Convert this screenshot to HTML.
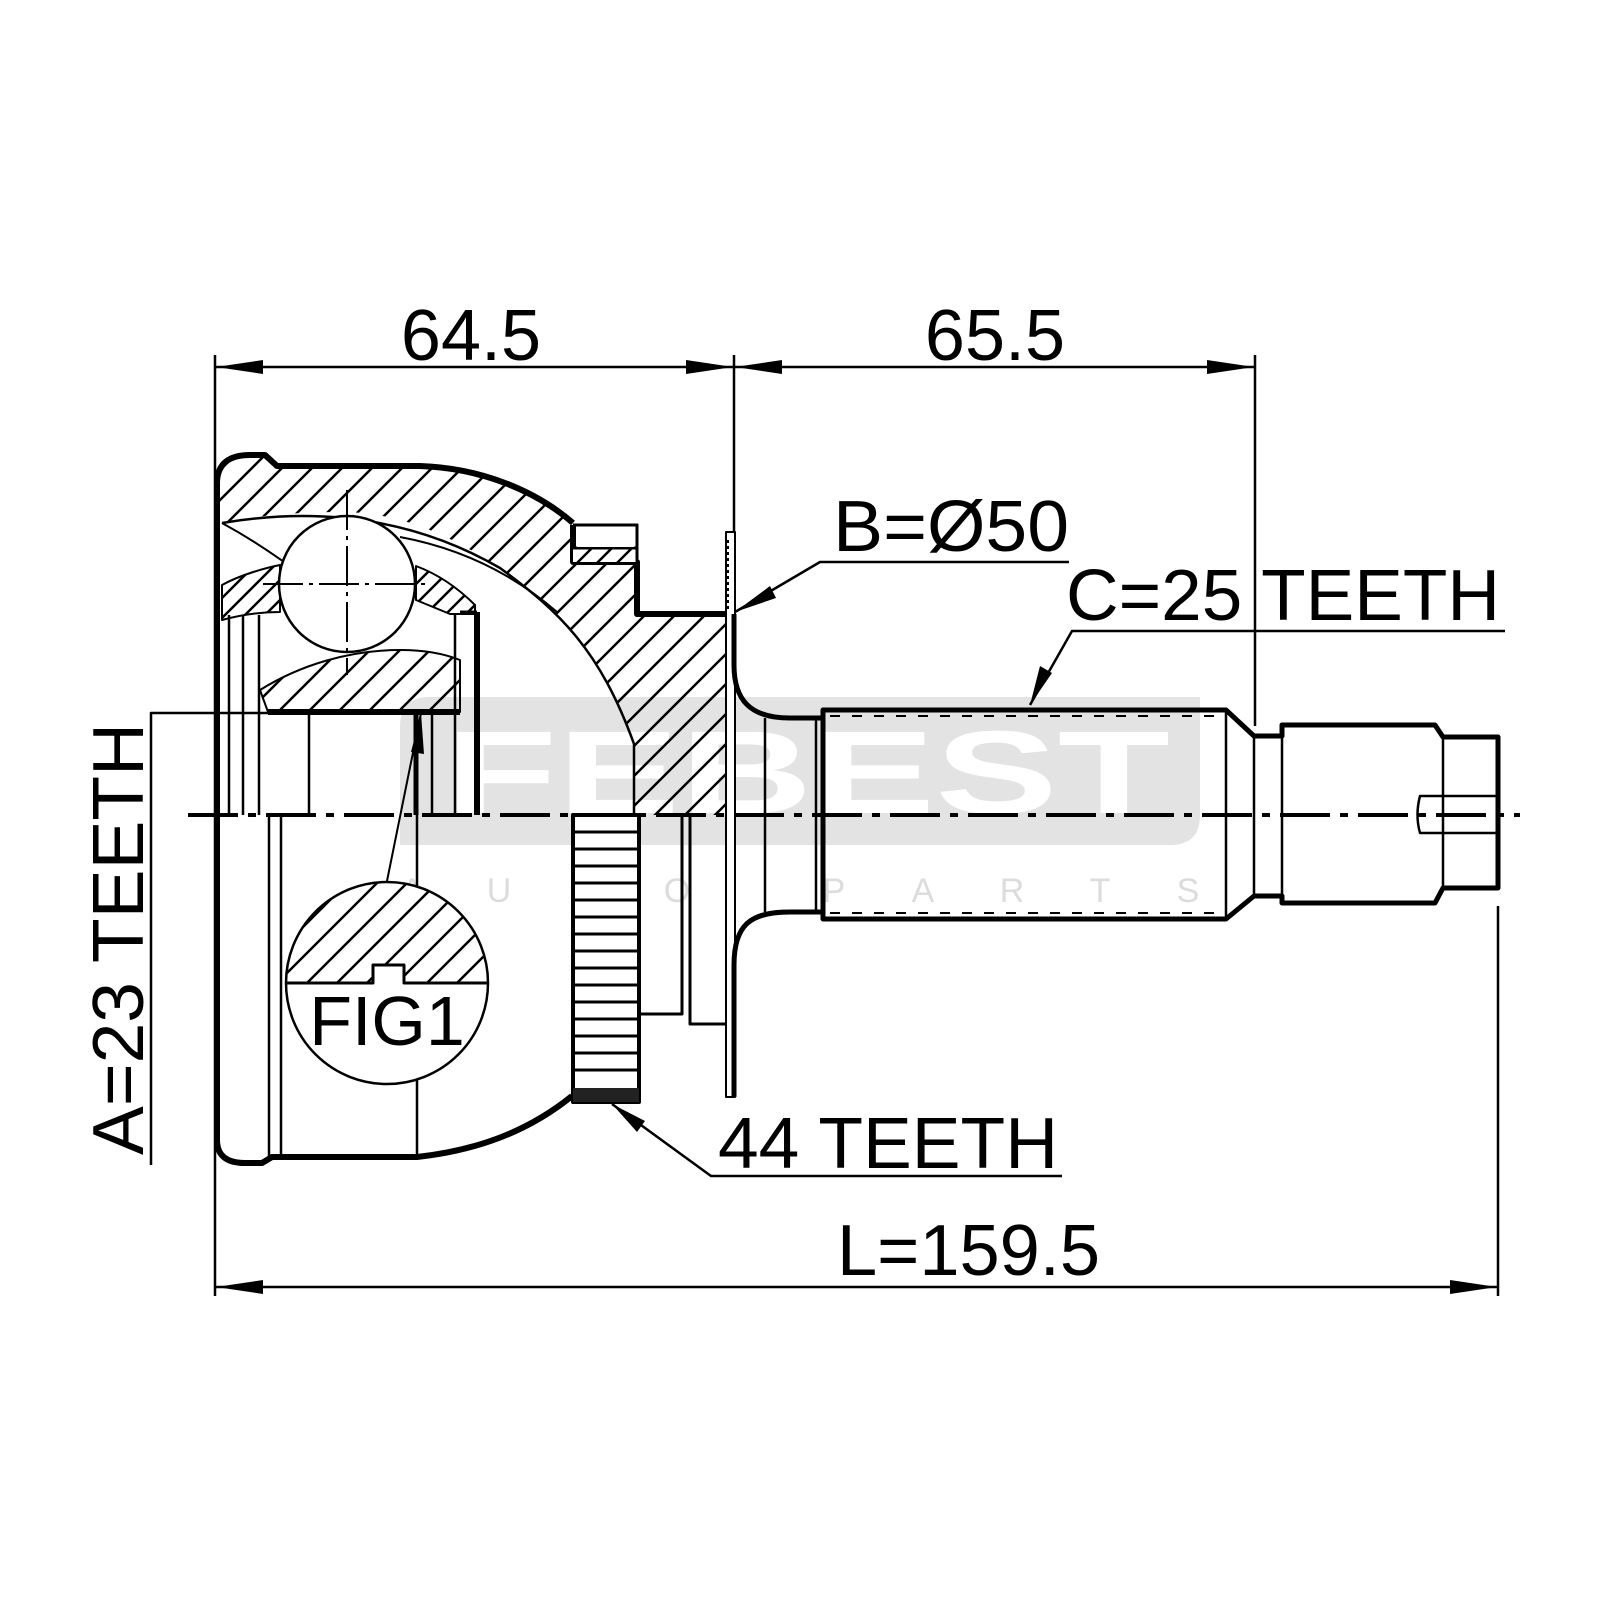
<!DOCTYPE html>
<html><head><meta charset="utf-8"><style>
html,body{margin:0;padding:0;background:#fff}
svg{display:block}
text{font-family:"Liberation Sans",Arial,sans-serif}
</style></head><body>
<svg width="1600" height="1600" viewBox="0 0 1600 1600" xmlns="http://www.w3.org/2000/svg">
<defs>
<pattern id="h" patternUnits="userSpaceOnUse" width="30" height="30">
<path d="M-5,35 L35,-5 M-35,35 L5,-5 M25,35 L65,-5" stroke="#000" stroke-width="2.5"/>
</pattern>
<pattern id="h2" patternUnits="userSpaceOnUse" width="20" height="20">
<path d="M-5,25 L25,-5 M-25,25 L5,-5 M15,25 L45,-5" stroke="#000" stroke-width="2.5"/>
</pattern>
</defs>

<!-- watermark -->
<path d="M430,697 H1200 V815 Q1200,845 1170,845 H400 V727 Q400,697 430,697 Z" fill="#e3e3e3"/>
<text x="445" y="813" font-size="118" font-weight="bold" fill="#fff" textLength="725" lengthAdjust="spacingAndGlyphs">FEBEST</text>
<g font-size="34" fill="#dcdcdc" text-anchor="middle">
<text x="412" y="902">A</text><text x="499" y="902">U</text><text x="588" y="902">T</text><text x="677" y="902">O</text>
<text x="834" y="902">P</text><text x="923" y="902">A</text><text x="1012" y="902">R</text><text x="1100" y="902">T</text><text x="1188" y="902">S</text>
</g>

<g fill="none" stroke="#000" stroke-linejoin="round">
<!-- extension lines -->
<path d="M215,355 V1296 M734,355 V532 M1255,355 V726 M1498,906 V1296" stroke-width="2.5"/>

<!-- bell outer section hatched -->
<path d="M220,480 Q222,455 250,455 L265,455 L277,466 L420,466 C480,468 535,490 573,523 L573,562 L637,562 L637,614 L734,614 L734,815 L634,815 L634,744 C600,650 560,612 500,568 C450,535 400,512 340,512 C300,512 260,515 220,523 Z" fill="url(#h)" stroke="none"/>
<!-- outer contour -->
<path d="M217,815 V482 Q218,455 250,455 L265,455 L277,466 L420,466 C480,468 535,490 573,523 M573,525 V562 H637 V614 H734" stroke-width="6"/>
<!-- cap -->
<path d="M573,525 H637 V562" stroke-width="3"/>
<rect x="573" y="548" width="64" height="14" fill="#fff" stroke="none"/>
<rect x="575" y="548" width="60" height="14" fill="url(#h2)" stroke="none"/>
<path d="M573,548 H637" stroke-width="3"/>
<rect x="577" y="527" width="57" height="20" fill="#fff" stroke="none"/>
<path d="M573,525 H637 V562" stroke-width="3"/>
<!-- inner spherical curve -->
<path d="M222,523 C300,510 400,510 500,568 C560,612 600,650 634,744 V815" stroke-width="2.5"/>
<path d="M222,523 C290,560 330,600 360,620" stroke-width="2"/>
<path d="M400,537 C470,550 520,580 557,612" stroke-width="2"/>

<!-- left cage piece -->
<path d="M222,585 C240,575 265,568 280,565 L280,612 C260,612 240,615 222,620 Z" fill="url(#h2)" stroke-width="2"/>
<!-- right cage piece -->
<path d="M416,566 C440,575 460,590 475,605 L475,614 H450 L416,600 Z" fill="url(#h2)" stroke-width="2"/>
<!-- inner race hatched -->
<path d="M260,690 C300,665 350,650 400,650 C430,650 450,656 460,660 L460,712 L268,712 Z" fill="url(#h)" stroke-width="2"/>
<path d="M268,712 H460" stroke-width="6"/>

<!-- ball -->
<circle cx="347" cy="584" r="68" fill="#fff" stroke-width="2.5"/>
<path d="M347,490 V675 M263,584 H430" stroke-width="2" stroke-dasharray="40,6,4,6"/>

<!-- inner vertical lines upper -->
<path d="M229,615 V815 M243,615 V815 M259,615 V815 M309,712 V815 M432,712 V815 M455,615 V815" stroke-width="2.5"/>
<path d="M416,712 V815" stroke-width="5"/>
<path d="M477,612 V815" stroke-width="6"/>
<path d="M460,612 H477" stroke-width="3"/>

<!-- A leader -->
<path d="M151,1165 V713 H300" stroke-width="2.5"/>

<!-- lower body -->
<path d="M217,815 V1140 Q217,1163 245,1163 L262,1163 L272,1157 H417 C480,1150 530,1130 572,1096" stroke-width="6"/>
<path d="M269,815 V1157 M281,815 V1157" stroke-width="2.5"/>
<path d="M417,815 V1157" stroke-width="2.5"/>

<!-- tone ring -->
<rect x="573" y="815" width="66" height="287" fill="#fff" stroke-width="4"/>
<rect x="573" y="1088" width="66" height="14" fill="#222" stroke="none"/>
<path d="M573,832 H639 M573,849 H639 M573,866 H639 M573,883 H639 M573,900 H639 M573,917 H639 M573,934 H639 M573,951 H639 M573,968 H639 M573,985 H639 M573,1002 H639 M573,1019 H639 M573,1036 H639 M573,1053 H639 M573,1070 H639" stroke-width="3"/>
<path d="M639,1014 H682 V815 M690,815 V1024 H726" stroke-width="3"/>

<!-- plate B -->
<rect x="726" y="532" width="9" height="565" fill="#fff" stroke-width="2"/>
<path d="M728,540 V610" stroke-width="2" stroke-dasharray="3,3"/>
<path d="M680,614 H726" stroke-width="4" stroke-dasharray="4,2"/>

<!-- flange to shaft -->
<path d="M734,614 V665 C734,700 750,718 790,718 H823 M734,1097 V965 C734,925 750,912 790,912 H823" stroke-width="5"/>
<path d="M765,718 V912 M816,718 V912" stroke-width="2.5"/>
<!-- shaft -->
<path d="M823,710 H1226 L1254,736 H1282 V725 H1435 L1443,737 H1498 V888 H1443 L1435,903 H1282 V896 H1254 L1226,919 H823 Z" fill="none" stroke-width="5"/>
<path d="M823,710 V919 M1226,710 V919" stroke-width="2.5"/>
<path d="M1254,736 V896 M1282,725 V903 M1443,737 V888" stroke-width="2.5"/>
<path d="M830,716 H1222 M830,913 H1222" stroke-width="2" stroke-dasharray="10,12"/>
<path d="M1498,796 H1420 Q1415,815 1420,833 H1498" stroke-width="2.5"/>

<!-- FIG1 -->
<circle cx="387" cy="983" r="101" fill="#fff" stroke-width="2.5"/>
<clipPath id="fc"><circle cx="387" cy="983" r="100"/></clipPath>
<path d="M280,983 H373 V965 H404 V983 H490 V870 H280 Z" fill="url(#h)" stroke="none" clip-path="url(#fc)"/>
<path d="M286,983 H373 V965 H404 V983 H488" stroke-width="3"/>
<path d="M387,881 L421,713" stroke-width="2"/>

<!-- dimension lines -->
<path d="M215,367 H734 M734,367 H1255 M215,1287 H1498" stroke-width="2.5"/>
<!-- leaders -->
<path d="M1069,562 H820 L735,612 M1505,631 H1072 L1030,705 M1062,1176 H711 L612,1104" stroke-width="2.5"/>
</g>

<!-- arrowheads -->
<g fill="#000">
<polygon points="216,367 263,360 263,374"/>
<polygon points="733,367 686,360 686,374"/>
<polygon points="735,367 782,360 782,374"/>
<polygon points="1254,367 1207,360 1207,374"/>
<polygon points="216,1287 263,1280 263,1294"/>
<polygon points="1497,1287 1450,1280 1450,1294"/>
<polygon points="735,612 770,586 776,598"/>
<polygon points="1030,705 1040,666 1052,673"/>
<polygon points="612,1104 645,1121 637,1132"/>
<polygon points="421,713 411,752 424,754"/>
</g>

<!-- labels -->
<g font-size="72" fill="#000">
<text x="471" y="360" text-anchor="middle">64.5</text>
<text x="995" y="360" text-anchor="middle">65.5</text>
<text x="833" y="551" textLength="236" lengthAdjust="spacingAndGlyphs">B=Ø50</text>
<text x="1066" y="620" textLength="434" lengthAdjust="spacingAndGlyphs">C=25 TEETH</text>
<text x="718" y="1168" textLength="340" lengthAdjust="spacingAndGlyphs">44 TEETH</text>
<text x="837" y="1275" textLength="263" lengthAdjust="spacingAndGlyphs">L=159.5</text>
<text x="387" y="1045" text-anchor="middle" font-size="70">FIG1</text>
<text transform="translate(143,1155) rotate(-90)" textLength="432" lengthAdjust="spacingAndGlyphs">A=23 TEETH</text>
</g>

<!-- centerline -->
<path d="M188,815 H1520" stroke="#000" stroke-width="4" stroke-dasharray="50,10,8,10" fill="none"/>
</svg>
</body></html>
